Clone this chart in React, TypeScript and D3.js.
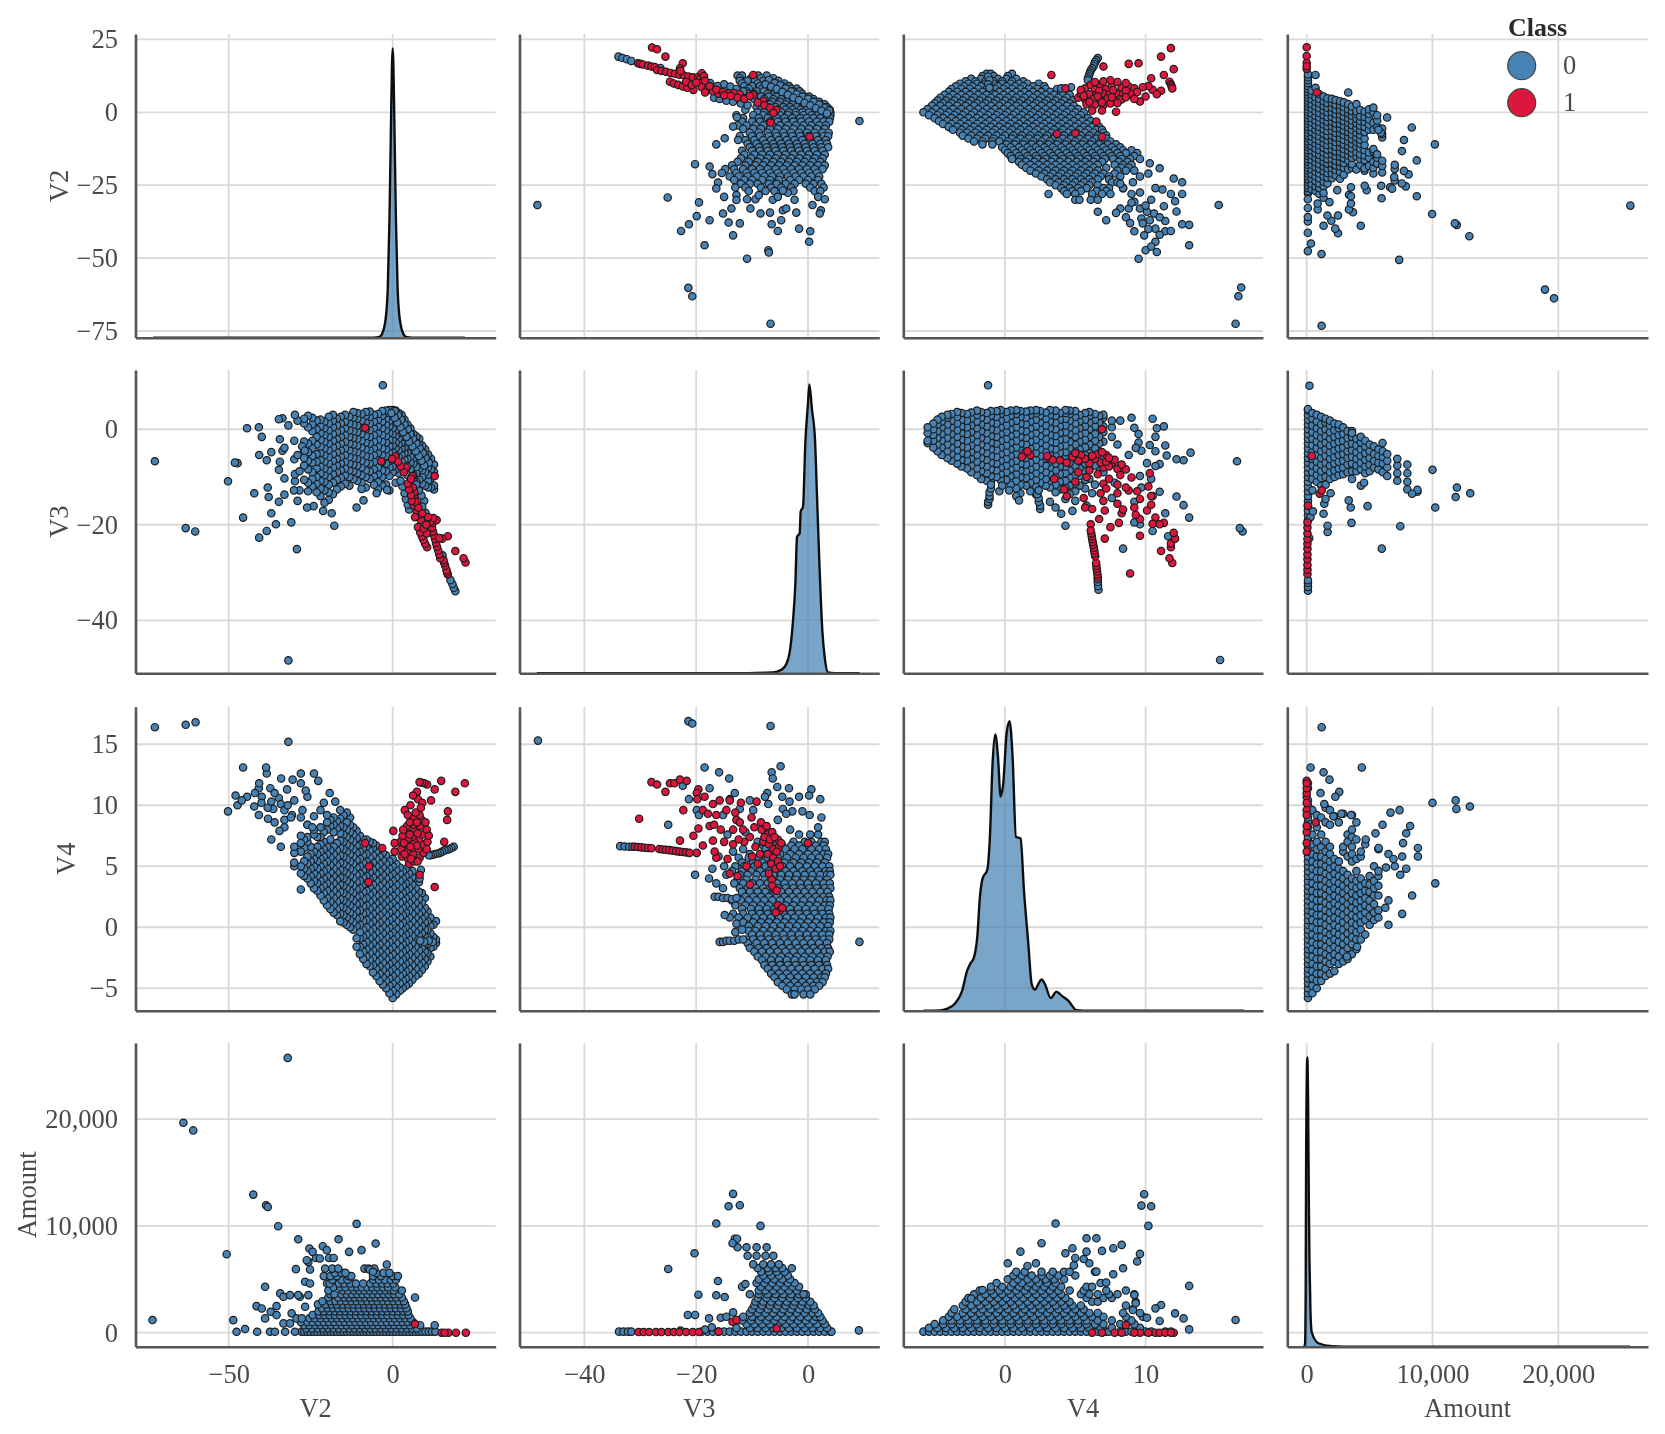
import React, { useEffect, useRef } from 'react';
import * as d3 from 'd3';

type Row = [number, number[]];
type Pair = [number, number];

const variables = ['V2', 'V3', 'V4', 'Amount'];
const classLabels = ['0', '1'];
const tickValues: Record<string, number[]> = {
  V2y: [25, 0, -25, -50, -75],
  V3y: [0, -20, -40],
  V4y: [15, 10, 5, 0, -5],
  Amounty: [20000, 10000, 0],
  V2x: [-50, 0],
  V3x: [-40, -20, 0],
  V4x: [0, 10],
  Amountx: [0, 10000, 20000],
};

// axis limits
const xDomains: Record<string, number[]> = {
  V2: [-78.4, 31.4],
  V3: [-51.6, 12.75],
  V4: [-7.23, 18.35],
  Amount: [-1542, 27130],
};
const yDomains: Record<string, number[]> = {
  V2: [-77.3, 26.85],
  V3: [-51.1, 12.4],
  V4: [-6.84, 18.08],
  Amount: [-1311, 27125],
};

// densities on the diagonal, peak = 1
const kdeV2: Pair[] = [[-73, 0], [-20, 0], [-6, 0], [-4, 0.003], [-3, 0.02], [-2, 0.08], [-1.5, 0.17], [-1, 0.4], [-0.5, 0.75], [-0.2, 0.95], [0, 1], [0.2, 0.95], [0.5, 0.75], [1, 0.4], [1.5, 0.17], [2, 0.08], [3, 0.02], [4, 0.003], [6, 0], [22, 0]];
const kdeV3: Pair[] = [[-48.5, 0], [-15, 0], [-6.25, 0.003], [-4.76, 0.012], [-3.87, 0.032], [-3.15, 0.09], [-2.68, 0.183], [-2.26, 0.31], [-1.96, 0.473], [-1.49, 0.484], [-1.31, 0.56], [-0.89, 0.577], [-0.48, 0.797], [0, 0.936], [0.24, 1], [0.71, 0.913], [1.25, 0.809], [1.61, 0.612], [2.08, 0.357], [2.56, 0.148], [2.98, 0.056], [3.57, 0.003], [4.76, 0], [9.2, 0]];
const kdeV4: Pair[] = [[-5.8, 0], [-4.62, 0.001], [-4.15, 0.006], [-3.55, 0.025], [-3.08, 0.064], [-2.68, 0.139], [-2.49, 0.16], [-2.2, 0.185], [-1.97, 0.254], [-1.78, 0.393], [-1.59, 0.457], [-1.26, 0.486], [-1.07, 0.601], [-0.88, 0.855], [-0.69, 0.954], [-0.5, 0.879], [-0.31, 0.74], [-0.12, 0.786], [0.12, 0.96], [0.33, 1], [0.54, 0.879], [0.78, 0.601], [1.11, 0.595], [1.35, 0.416], [1.66, 0.231], [1.9, 0.092], [2.13, 0.073], [2.37, 0.092], [2.6, 0.108], [2.84, 0.092], [3.25, 0.044], [3.67, 0.066], [4.03, 0.052], [4.5, 0.035], [5.09, 0.002], [6.04, 0], [17, 0]];
const kdeAmount: Pair[] = [[-200, 0], [-130, 0.01], [-80, 0.2], [-40, 0.7], [50, 1], [120, 0.8], [170, 0.5], [220, 0.3], [300, 0.12], [400, 0.05], [930, 0.012], [2000, 0.002], [4000, 0], [25700, 0]];

// V3 (x) against V2 (y): rows are [V2, V3 values]
const v3V2Rows: Row[] = [
  [12.6, [-12.6, -11.8, -9.7, -8.9, -7.4]],
  [11.7, [-12.2, -10.2, -8.4, -6.2]],
  [10.8, [-12.2, -10.8, -9.5, -8, -6.8, -5.3]],
  [9.9, [-11.8, -9, -7.5, -5.6, -4.2]],
  [9, [-11.4, -10, -8.6, -7.2, -6, -4.6, -3.4]],
  [8.1, [-10.6, -8.2, -6.8, -5.4, -3, -2]],
  [7.2, [-11, -9.2, -7.9, -6.5, -5.2, -3.9, -2.6, -1.5]],
  [6.3, [-10.8, -9.6, -7.2, -6, -4.4, -3.4, -2.2, -1]],
  [5.4, [-10.2, -8.4, -7, -5.7, -4.4, -3.2, -2, -0.8, 0.2]],
  [4.5, [-9.6, -7.8, -6.2, -4.8, -3.6, -2.4, -1.2, 0, 1]],
  [3.6, [-8, -6.4, -5, -3.8, -2.6, -1.4, -0.2, 1, 2]],
  [2.7, [-8.6, -6.8, -5.4, -4, -2.8, -1.6, -0.4, 0.8, 2.2, 3]],
  [1.8, [-9.2, -7.4, -5.8, -4.4, -3.2, -2, -0.8, 0.4, 1.6, 2.6, 3.4]],
  [0.9, [-11.2, -8.4, -7, -5.4, -4, -2.8, -1.4, -0.2, 1, 2.2, 3.2, 3.9]],
  [0, [-9, -7.8, -6.2, -4.8, -3.4, -2.2, -1, 0.2, 1.4, 2.6, 3.6, 4]],
  [-1, [-12.8, -9.8, -8, -6.6, -5, -3.6, -2.2, -0.8, 0.6, 1.8, 3, 4]],
  [-2, [-11.6, -8.8, -7.2, -5.6, -4.2, -2.8, -1.4, -0.2, 1, 2.2, 3.4, 3.9]],
  [-3.2, [-11.8, -10, -8.6, -6.8, -5.4, -4, -2.6, -1.2, 0.2, 1.6, 2.8, 3.8]],
  [-4.5, [-12.6, -11, -9.4, -8, -6.4, -5, -3.6, -2.2, -0.8, 0.6, 2, 3.2]],
  [-5.7, [-11.6, -9.8, -8.4, -6.8, -5.4, -4, -2.6, -1.2, 0.2, 1.6, 3]],
  [-7, [-10.4, -8.8, -7.2, -5.8, -4.4, -3, -1.6, -0.2, 1.2, 2.6, 3.7]],
  [-8.2, [-12.2, -10, -8.6, -7, -5.6, -4.2, -2.8, -1.4, 0, 1.4, 2.8, 3.6]],
  [-9.5, [-11.2, -9.6, -8, -6.6, -5.2, -3.8, -2.4, -1, 0.4, 1.8, 3.2]],
  [-10.8, [-10.8, -9.2, -7.6, -6.2, -4.8, -3.4, -2, -0.6, 0.8, 2.2, 3.4]],
  [-12, [-10.4, -8.8, -7.4, -6, -4.6, -3.2, -1.8, -0.4, 1, 2.4, 3.6]],
  [-13.2, [-11.8, -10, -8.6, -7.2, -5.8, -4.4, -3, -1.6, -0.2, 1.2, 2.6]],
  [-14.5, [-11.4, -9.6, -8.2, -6.8, -5.4, -4, -2.6, -1.2, 0.2, 1.6, 3]],
  [-15.8, [-12, -10.2, -8.6, -7.2, -5.8, -4.4, -3, -1.6, -0.2, 1.2, 2.6]],
  [-17, [-12.6, -10.6, -9, -7.6, -6.2, -4.8, -3.4, -2, -0.6, 0.8, 2.2]],
  [-18.2, [-13.6, -11.2, -9.4, -8, -6.6, -5.2, -3.8, -2.4, -1, 0.4, 1.8, 3]],
  [-19.5, [-14.8, -13.2, -11.6, -10, -8.6, -7.2, -5.8, -4.4, -3, -1.6, -0.2, 1.2, 2.6]],
  [-20.8, [-15.4, -12.8, -11, -9.6, -8.2, -6.8, -5.4, -4, -2.6, -1.2, 0.2, 1.6]],
  [-22, [-14, -12.4, -10.8, -9.2, -7.8, -6.4, -5, -3.6, -2.2, -0.8, 0.6, 2]],
  [-23.2, [-13.2, -11.4, -10, -8.2, -6.8, -5.2, -3.2, -1.6, 0, 1.8]],
  [-24.5, [-12, -10.4, -9, -7, -5.6, -4, -2.4, -0.4, 1, 2.4]],
  [-25.8, [-13, -11.2, -8.4, -6.6, -4.8, -3, 0.4, 2.8]],
  [-27, [-10.6, -7.6, -6, -4.4, -2.6, 1.2, 2.2]],
];
const v3V2Blue: Pair[] = [[-48.4, -31.8], [9.2, -3], [-6.7, -72.5], [-21.4, -60.2], [-20.7, -63.1], [-7.1, -47.3], [-7, -48.1], [-10.9, -50.2], [-18.5, -45.6], [0.2, -44.4], [0.4, -40.8], [-1.6, -39.9], [-13.4, -42.2], [-22.7, -40.7], [-21.3, -38.4], [-19.9, -35.6], [-17.6, -37], [-14.2, -37.8], [-12.2, -38.1], [-15.2, -34.7], [-13.7, -33], [-19.5, -30.9], [-25.1, -29.2], [-20.2, -17.8], [-17.6, -18.6], [-17.1, -21.2], [-16.4, -11], [-14.9, -8.9], [-12.5, -9.5], [-13.4, -4.9], [-12.7, -1.7], [-16.1, -24.1], [-16.4, -26.1], [-15, -29], [-12.8, -28.4], [-12.8, -30.1], [-10.9, -29.8], [-9.4, -29.8], [-8.8, -28.4], [-10.3, -33], [-8.5, -34.7], [-6.8, -34.4], [-6.3, -30], [-5.4, -29], [-4.5, -33.6], [-3.9, -33], [-4.8, -37], [-6.5, -38.4], [-5.4, -40.7], [-2.1, -34.4], [-2.4, -30], [0.8, -31.8], [2.3, -33.6], [2.1, -34.7], [1.8, -29], [3, -29.8], [-3.6, -27.6], [-4.5, -26.8], [-33.9, 19.1], [-33.2, 18.6], [-32.4, 18.2], [-31.6, 17.6], [-26.4, 15.2], [-16.8, 5], [-15.8, 4.6], [-14.6, 4], [-13.4, 3.6], [-12, 3], [-10.8, 2.4], [-15, 9.6], [-13.9, 8.8], [-12.8, 8], [-11.6, 7.2], [-19, 10.6], [-17.5, 10], [-16.2, 9], [-7, 11], [-6, 10], [-5, 9.2], [-4, 8.2], [-3, 7.2], [-2, 6.2], [-1, 5.4], [0, 4.6], [1, 3.6], [2, 2.6], [3, 1.6], [3.8, 0.6], [-7.6, 9.6], [-6.6, 8.8], [-5.6, 8], [-4.6, 7], [-3.6, 6], [-2.6, 5], [-1.6, 4.2], [-0.6, 3.2], [0.4, 2.4], [1.4, 1.4], [2.4, 0.6], [3.4, -0.4]];
const v3V2Red: Pair[] = [[-27.9, 22.2], [-27, 21.6], [-25.5, 19.1], [-22.4, 16.8], [-22.9, 15.1], [-30.4, 16.8], [-30, 16.6], [-29.5, 16.4], [-28.6, 16], [-28, 15.7], [-27.4, 15.5], [-27, 14.5], [-26.2, 14.2], [-25.4, 13.9], [-24.6, 13.5], [-23.8, 13.2], [-23, 12.9], [-22.2, 12.6], [-21.4, 12.3], [-20.6, 12], [-19.6, 12.2], [-19.3, 11.7], [-24.7, 10.5], [-24, 9.9], [-23.2, 9.4], [-22.4, 8.9], [-21.6, 8.4], [-20.5, 7.7], [-19.4, 10], [-19, 8.6], [-18, 7.8], [-17, 7.2], [-16, 6.4], [-14.3, 6.6], [-13.2, 6.6], [-12.2, 6.2], [-9.8, 6], [-9.8, 12.8], [-5.7, 0.8], [-6.7, -3.5], [0.3, -8.4], [-8, 4], [-19, 13.4], [-18.6, 12.4], [-18.4, 10.8], [-17.6, 9], [-16.4, 7.8], [-15.2, 7], [-15, 5.8], [-13.8, 5.6], [-12.6, 5], [-11.4, 4.6], [-10.4, 5.6], [-9, 3.4], [-7.8, 2.4], [-6.8, 1.6], [-6.2, -0.2], [-22.8, 14.2], [-21.8, 10.4], [-20.8, 9.4], [-20, 10.2], [-18.4, 6.8]];

// V4 (x) against V2 (y)
const v4V2Rows: Row[] = [
  [13.2, [-1.3, -1, 0.5]],
  [12.4, [-1.6, -0.8, 0.2]],
  [11.5, [-2.4, -1.7, -1.1, -0.5, 0.1, 0.8]],
  [10.6, [-2.8, -2.1, -1.4, -0.8, -0.2, 0.5, 1.3]],
  [9.8, [-3.2, -2.6, -2, -1.4, -0.8, -0.2, 0.4, 1, 1.6, 2.4]],
  [8.9, [-3.5, -2.9, -2.3, -1.7, -1.1, -0.5, 0.1, 0.7, 1.3, 2, 2.8]],
  [8, [-3.8, -3.1, -2.5, -1.9, -1.3, -0.7, -0.1, 0.5, 1.1, 1.7, 2.3, 2.9, 3.7]],
  [7, [-4, -3.4, -2.8, -2.2, -1.6, -1, -0.4, 0.2, 0.8, 1.4, 2, 2.6, 3.2, 4]],
  [6, [-4.3, -3.7, -3.1, -2.5, -1.9, -1.3, -0.7, -0.1, 0.5, 1.1, 1.7, 2.3, 2.9, 3.5, 4.1, 4.6]],
  [5, [-4.6, -4, -3.4, -2.8, -2.2, -1.6, -1, -0.4, 0.2, 0.8, 1.4, 2, 2.6, 3.2, 3.8, 4.4]],
  [4, [-4.8, -4.2, -3.6, -3, -2.4, -1.8, -1.2, -0.6, 0, 0.6, 1.2, 1.8, 2.4, 3, 3.6, 4.2, 4.8]],
  [3.1, [-5, -4.4, -3.8, -3.2, -2.6, -2, -1.4, -0.8, -0.2, 0.4, 1, 1.6, 2.2, 2.8, 3.4, 4, 4.6]],
  [2.2, [-5.2, -4.6, -4, -3.4, -2.8, -2.2, -1.6, -1, -0.4, 0.2, 0.8, 1.4, 2, 2.6, 3.2, 3.8, 4.4, 4.9]],
  [1.1, [-5.5, -4.9, -4.3, -3.7, -3.1, -2.5, -1.9, -1.3, -0.7, -0.1, 0.5, 1.1, 1.7, 2.3, 2.9, 3.5, 4.1, 4.7, 5.2]],
  [0, [-5.8, -5.2, -4.6, -4, -3.4, -2.8, -2.2, -1.6, -1, -0.4, 0.2, 0.8, 1.4, 2, 2.6, 3.2, 3.8, 4.4, 5, 5.6]],
  [-1, [-5.4, -4.8, -4.2, -3.6, -3, -2.4, -1.8, -1.2, -0.6, 0, 0.6, 1.2, 1.8, 2.4, 3, 3.6, 4.2, 4.8, 5.4]],
  [-2, [-5, -4.4, -3.8, -3.2, -2.6, -2, -1.4, -0.8, -0.2, 0.4, 1, 1.6, 2.2, 2.8, 3.4, 4, 4.6, 5.2, 5.9]],
  [-3, [-4.7, -4.1, -3.5, -2.9, -2.3, -1.7, -1.1, -0.5, 0.1, 0.7, 1.3, 1.9, 2.5, 3.1, 3.7, 4.3, 4.9, 5.5, 6.1]],
  [-4, [-4.4, -3.8, -3.2, -2.6, -2, -1.4, -0.8, -0.2, 0.4, 1, 1.6, 2.2, 2.8, 3.4, 4, 4.6, 5.2, 5.8, 6.4]],
  [-5, [-4, -3.4, -2.8, -2.2, -1.6, -1, -0.4, 0.2, 0.8, 1.4, 2, 2.6, 3.2, 3.8, 4.4, 5, 5.6, 6.2, 6.7]],
  [-6, [-3.7, -3.1, -2.5, -1.9, -1.3, -0.7, -0.1, 0.5, 1.1, 1.7, 2.3, 2.9, 3.5, 4.1, 4.7, 5.3, 5.9, 6.5, 6.9]],
  [-7, [-3.2, -2.7, -2.1, -1.5, -0.9, -0.3, 0.3, 0.9, 1.5, 2.1, 2.7, 3.3, 3.9, 4.5, 5.1, 5.7, 6.3, 7]],
  [-8, [-3, -2.4, -1.8, -1.2, -0.6, 0, 0.6, 1.2, 1.8, 2.4, 3, 3.6, 4.2, 4.8, 5.4, 6, 6.6, 7.2]],
  [-9, [-2.6, -2, -1.4, -0.8, -0.2, 0.5, 1.1, 1.7, 2.3, 2.9, 3.5, 4.1, 4.7, 5.3, 5.9, 6.5, 7.2]],
  [-10, [-2.2, -1.6, -0.9, -0.4, 0.2, 0.8, 1.4, 2, 2.6, 3.2, 3.8, 4.4, 5, 5.6, 6.2, 6.8, 7.5]],
  [-11, [-1.6, -0.9, 0.1, 0.7, 1.3, 1.9, 2.5, 3.1, 3.7, 4.3, 4.9, 5.5, 6.1, 6.7, 7.3, 7.9]],
  [-12, [-0.2, 0.4, 1, 1.6, 2.2, 2.8, 3.4, 4, 4.6, 5.2, 5.8, 6.4, 7, 7.6, 8.2]],
  [-13, [0, 0.6, 1.2, 1.8, 2.4, 3, 3.6, 4.2, 4.8, 5.4, 6, 6.6, 7.2, 7.8, 8.4, 9]],
  [-14, [0.2, 0.8, 1.4, 2, 2.6, 3.2, 3.8, 4.4, 5, 5.6, 6.2, 6.8, 7.4, 8, 8.6, 9.4]],
  [-15, [0.4, 1, 1.6, 2.2, 2.8, 3.4, 4, 4.6, 5.2, 5.8, 6.4, 7, 7.6, 8.2, 9.2]],
  [-16, [0.5, 1.1, 1.7, 2.3, 2.9, 3.5, 4.1, 4.7, 5.3, 5.9, 6.5, 7.1, 7.7, 8.3, 8.9, 9.6]],
  [-17, [1, 1.5, 2.1, 2.7, 3.3, 3.9, 4.5, 5.1, 5.7, 6.3, 6.9, 8.1, 8.7]],
  [-18, [1.2, 1.8, 2.4, 3, 3.6, 4.2, 4.8, 5.4, 6, 6.6, 7.8, 8.4, 9]],
  [-19, [1.5, 2.1, 2.7, 3.3, 3.9, 4.5, 5.1, 5.7, 6.3, 7.2, 8.3, 8.8]],
  [-20, [1.8, 2.4, 3, 3.6, 4.2, 4.8, 5.4, 6, 6.6, 8, 8.6, 9.2]],
  [-21, [2.2, 2.8, 3.4, 4, 4.6, 5.2, 5.8, 6.4, 7, 7.8]],
  [-22, [2.6, 3.2, 3.8, 4.4, 5, 5.6, 6.2, 6.8, 7.4, 8.2]],
  [-23, [3, 3.6, 4.2, 4.8, 5.4, 6, 6.6, 7.4]],
  [-24, [3.2, 3.8, 4.4, 5, 5.6, 6.2, 7.6, 8]],
  [-25, [3.6, 4.2, 4.8, 5.4, 6, 6.6]],
  [-26, [4, 4.6, 5.2, 5.8, 7, 7.4, 8.4]],
  [-27, [4.2, 4.8, 5.4, 6.5, 7.2]],
  [-28, [4.4, 5, 6.2, 6.9, 7.5]],
  [-30, [5, 5.3, 6.1, 6.6]],
];
const v4V2Blue: Pair[] = [[3.1, -28], [10.3, -17.5], [11, -19.2], [12, -22.7], [12.6, -24], [10.7, -26], [11.2, -26.5], [12.1, -30.5], [11.3, -32.2], [15.2, -31.8], [11.4, -37.3], [12.6, -38.4], [13.1, -38.6], [11.4, -40.8], [11.8, -40.7], [13.1, -45.6], [10.7, -44.4], [10.8, -47.9], [10, -47.3], [9.5, -50.2], [9.2, -40.8], [9.9, -42.2], [10.7, -39.9], [10.6, -34.7], [10.1, -34.1], [9.6, -33], [9.2, -30.7], [8.8, -33], [8.2, -33], [7.9, -34.5], [7.2, -37], [6.6, -34.1], [9.7, -36.4], [9.8, -38.1], [16.8, -60.1], [16.6, -63.1], [16.4, -72.5], [6.6, 18.6], [6.5, 17.9], [6.4, 17.2], [6.35, 16.5], [6.3, 15.8], [6.2, 15.1], [6.1, 14.4], [6.05, 13.7], [6, 13], [5.95, 12.3], [5.9, 11.6], [5.9, 11], [4.7, 8.6], [4, 8.2], [-1.2, 12.2], [-1.1, 11], [-1.2, 9.6], [-1.1, 8.4], [8.4, -26], [9, -28], [9.6, -27.5], [10.4, -30], [10, -32], [9, -31], [8.6, -36], [8.9, -38], [10.3, -37], [11, -36], [10.2, -40], [11, -42], [10.4, -46], [12.2, -34], [12.6, -28], [9.6, -22], [10.2, -21], [8.2, -24.5], [11.8, -28], [9.1, -24]];
const v4V2Red: Pair[] = [[3.3, 12.8], [4.3, 8.2], [7, 15.7], [8.8, 16.6], [9.5, 16.8], [11.1, 19.1], [11.8, 22], [12, 14.8], [11.3, 12.8], [10.4, 11.7], [11.7, 10.5], [11.8, 9.6], [11.85, 8.9], [11.9, 8.2], [11.1, 7.4], [10.5, 7.7], [10.2, 9], [10, 5.4], [9.6, 3.7], [7.9, 0.2], [6.5, -3.2], [3.7, -7.4], [5, -7.2], [6.9, -8.4], [5.7, 8.2], [6.1, 9.4], [6.4, 7.8], [6.8, 9], [7.2, 8], [7.6, 9.2], [8, 10.4], [8.3, 8.4], [8.8, 8.8], [9.2, 8.2], [6, 6.2], [6.5, 6], [7, 6.5], [7.4, 6], [7.9, 6.6], [8.4, 6.2], [8.9, 6.4], [5.2, 5], [5.7, 4.4], [6.3, 4.6], [6.8, 4.2], [7.3, 4.8], [7.8, 4.2], [8.3, 4.4], [5.8, 2.8], [6.4, 2.6], [7, 2.4], [7.5, 3], [5.4, 6.4], [6.2, 0.6], [6.9, 0.6], [5.4, 7.6], [6.7, 7.4], [7.7, 7.6], [8.6, 7.4], [9.4, 7], [5.6, 5.6], [6.6, 5.4], [7.6, 5.2], [8.6, 5.2], [9.2, 4.6], [6, 3.6], [6.9, 3.4], [8, 3.2], [10.8, 6.2], [9.8, 8.6], [7, 10.6], [6.4, 10.4], [7.5, 11], [8.6, 10]];

// V2 (x) against Amount (y): rows are [Amount, V2 values]
const v2AmountRows: Row[] = [
  [100, [-27.8, -27, -26, -25, -24, -23, -22, -21, -20, -19, -18, -17, -16, -15, -14, -13, -12, -11, -10, -9, -8, -7, -6, -5, -4, -3, -2, -1, 0, 1, 2, 3, 4, 5, 6, 7, 8, 9, 10, 11, 12, 13]],
  [400, [-26.4, -24.6, -22.8, -21.2, -19.6, -18, -16.4, -14.8, -13.2, -11.6, -10, -8.4, -6.8, -5.2, -3.6, -2, -0.4, 1.2, 2.8, 4.4, 6, 7.4]],
  [700, [-27, -25.4, -23.6, -22, -20.4, -18.8, -17.2, -15.6, -14, -12.4, -10.8, -9.2, -7.6, -6, -4.4, -2.8, -1.2, 0.4, 2, 3.6, 5.2, 8.4, 12.8]],
  [1000, [-28, -26, -24.4, -22.6, -21, -19.4, -17.8, -16.2, -14.6, -13, -11.4, -9.8, -8.2, -6.6, -5, -3.4, -1.8, -0.2, 1.4, 3, 4.6, 6.2]],
  [1350, [-25.4, -23.8, -22, -20.2, -18.6, -17, -15.4, -13.8, -12.2, -10.6, -9, -7.4, -5.8, -4.2, -2.6, -1, 0.6, 2.2, 3.8, 5.4]],
  [1650, [-24.4, -22.4, -20.8, -19.2, -17.6, -16, -14.4, -12.8, -11.2, -9.6, -8, -6.4, -4.8, -3.2, -1.6, 0, 1.6, 3.2, 4.8]],
  [2000, [-22.6, -21, -19.2, -17.6, -16, -14.4, -12.8, -11.2, -9.6, -8, -6.4, -4.8, -3.2, -1.6, 0, 1.6, 3.2, 4.6]],
  [2300, [-21.6, -19.8, -18.2, -16.6, -15, -13.4, -11.8, -10.2, -8.6, -7, -5.4, -3.8, -2.2, -0.6, 1, 2.6, 4.2]],
  [2650, [-22.8, -20.4, -18.6, -17, -15.2, -13.6, -12, -10.4, -8.8, -7.2, -5.6, -4, -2.4, -0.8, 0.8, 2.4, 3.8]],
  [2950, [-21.4, -19, -17.4, -15.8, -14.2, -12.6, -11, -9.4, -7.8, -6.2, -4.6, -3, -1.4, 0.2, 1.8, 3.4]],
  [3300, [-19.6, -16.6, -14.8, -13.2, -11.6, -10, -8.4, -6.8, -5.2, -3.6, -2, -0.4, 1, 2.8, 6.8]],
  [3600, [-19, -17.8, -15.6, -14, -12.4, -10.8, -9.2, -7.6, -6, -4.4, -2.8, -1.2, 0.4, 2]],
  [3950, [-19.6, -15.2, -13.6, -11.8, -10.2, -8.6, -7, -5.4, -3.8, -2.2, -0.6, 0.4, 2.8]],
  [4250, [-18, -16, -14.4, -12.4, -10.8, -9.4, -7.8, -6.2, -4.6, -3, -1.4, 0.8]],
  [4600, [-20, -19.2, -16.4, -14.8, -13, -11.2, -9, -6.8, -5, -3.2, -1.6, 0.2]],
  [4950, [-18.4, -15.6, -13.8, -6, -4.2, -2.4, -0.6, 1]],
  [5300, [-21, -19, -17, -13.4, -12.6, -6, -3.6, 0, 1.6]],
  [5600, [-17.6, -15.6, -14.4, -5, -2.8, -1]],
  [6000, [-20.6, -18.4, -16.6, -8.6, -7.4, -5.6]],
  [7000, [-19.4, -18, -23.4]],
];
const v2AmountBlue: Pair[] = [[-73.2, 1184], [-32, 25730], [-63.8, 19660], [-60.8, 18940], [-42.5, 12930], [-38.6, 11930], [-38.1, 11780], [-34.9, 9970], [-50.6, 7350], [-28.8, 8750], [-11, 10190], [-16.5, 8750], [-5.2, 8350], [-9.5, 7730], [-13.3, 7570], [-25.4, 7880], [-24.4, 7570], [-21.3, 8100], [-20.1, 7730], [-22.2, 6950], [-25.7, 6630], [-29.5, 5950], [-25.2, 5920], [-1.8, 6390], [-41.5, 2490], [-39.9, 2270], [-35.4, 2490], [-37.2, 1960], [-38.9, 1340], [-35.4, 1650], [-48.6, 1180], [-34.3, 3680], [-38.9, 4300], [-33.3, 3360], [-31.3, 3520], [-28.3, 3360], [-25.7, 3520], [-28.8, 3520], [-26.7, 2430], [-30.8, 1810], [-29.3, 1340], [-33.3, 870], [-31.3, 870], [-27.7, 1340], [-47.6, 90], [-45, 340], [-41.3, 90], [-37.4, 90], [-35.9, 90], [-32.8, 90], [-29.8, 90], [-26.7, 4770], [-25.2, 4610], [-26.2, 6790], [-7, 5900], [-6, 5700]];
const v2AmountRed: Pair[] = [[6.8, 810], [14.9, 0], [17, 0], [19.3, 0], [22.3, 0], [15.8, 0]];

// V3 (x) against V4 (y): rows are [V4, V3 values]
const v3V4Rows: Row[] = [
  [7.6, [-1.6, 0.4, 1.8]],
  [7, [-9, -5.6, -2.6, -0.6, 0.6, 2.4, 3]],
  [6.7, [-8, -4.6, -3, -1.6, 0, 1.4, 2.8]],
  [6.4, [-7.6, -4, -2.4, -1, 0.6, 2, 3.2]],
  [6, [-10.4, -8.4, -6.8, -5, -3.2, -1.6, 0, 1.4, 2.8, 3.6]],
  [5.7, [-12.4, -10.6, -8.8, -7.2, -5.4, -3.8, -2.2, -0.8, 0.6, 2, 3.4]],
  [5.3, [-11.8, -9.8, -8.2, -6.6, -4.2, -2.6, -1.2, 0.2, 1.6, 3]],
  [5, [-13, -11.4, -9.6, -7.6, -6, -4.6, -3.2, -1.6, -0.2, 1.2, 2.6, 3.8]],
  [4.6, [-13.6, -11.8, -10.2, -8.6, -7, -5.4, -4, -2.6, -1, 0.4, 1.8, 3.2, 3.9]],
  [4.3, [-14.6, -12.2, -10.8, -9.2, -7.8, -6.2, -4.8, -3.4, -2, -0.6, 0.8, 2.2, 3.4, 4]],
  [3.9, [-12.6, -11, -9.4, -7.8, -6.4, -5, -3.6, -2.2, -0.8, 0.6, 2, 3.4]],
  [3.6, [-13.2, -11.6, -10, -8.6, -7.2, -5.6, -4.2, -2.8, -1.4, 0, 1.4, 2.8, 3.9]],
  [3.2, [-15.2, -12.2, -10.8, -9.4, -8, -6.8, -5.4, -4, -2.6, -1.2, 0.2, 1.6, 3, 4]],
  [2.9, [-11.8, -10.4, -9, -7.6, -6.2, -4.8, -3.4, -2, -0.6, 0.8, 2.2, 3.5]],
  [2.5, [-11.2, -9.8, -8.4, -7, -5.6, -4.2, -2.8, -1.4, 0, 1.4, 2.8, 3.8]],
  [2.2, [-13.6, -12, -10.6, -9.2, -7.8, -6.4, -5, -3.6, -2.2, -0.8, 0.6, 2, 3.3, 4]],
  [1.8, [-13, -11.2, -9.8, -8.4, -7, -5.4, -4, -2.6, -1.2, 0.2, 1.6, 3, 3.9]],
  [1.5, [-11.8, -10.2, -8.8, -7.4, -6, -4.6, -3.2, -1.8, -0.4, 1, 2.4, 3.7]],
  [1.1, [-13.4, -11.6, -10, -8.6, -7.2, -5.8, -4.4, -3, -1.6, -0.2, 1.2, 2.6, 3.8]],
  [0.8, [-14, -12.4, -10.8, -9.4, -8, -6.6, -5.2, -3.8, -2.4, -1, 0.4, 1.8, 3.2, 4]],
  [0.4, [-11.6, -9.8, -8.4, -7, -5.6, -4.2, -2.8, -1.4, 0, 1.4, 2.8, 3.9]],
  [0.1, [-10.6, -9, -7.6, -6.2, -4.8, -3.4, -2, -0.6, 0.8, 2.2, 3.6]],
  [-0.3, [-10.6, -9.4, -8, -6.6, -5.2, -3.8, -2.4, -1, 0.4, 1.8, 3.2, 4]],
  [-0.6, [-10, -8.6, -7.2, -5.8, -4.4, -3, -1.6, -0.2, 1.2, 2.6, 3.8]],
  [-1, [-11, -9.8, -8.4, -7, -5.6, -4.2, -2.8, -1.4, 0, 1.4, 2.8, 3.8]],
  [-1.3, [-10.8, -9.2, -7.8, -6.4, -5, -3.6, -2.2, -0.8, 0.6, 2, 3.4]],
  [-1.7, [-10.4, -8.8, -7.4, -6, -4.6, -3.2, -1.8, -0.4, 1, 2.4, 3.6]],
  [-2, [-9.6, -8.2, -6.8, -5.4, -4, -2.6, -1.2, 0.2, 1.6, 3, 3.9]],
  [-2.4, [-9, -7.6, -6.2, -4.8, -3.4, -2, -0.6, 0.8, 2.2, 3.5]],
  [-2.7, [-8.2, -6.6, -5.2, -3.8, -2.4, -1, 0.4, 1.8, 3.2]],
  [-3.1, [-7.8, -6.4, -5, -3.6, -2.2, -0.8, 0.6, 2, 3.4]],
  [-3.4, [-7.2, -5.8, -4.4, -3, -1.6, -0.2, 1.2, 2.6, 3.6]],
  [-3.8, [-6.6, -5.2, -3.8, -2.4, -1, 0.4, 1.8, 3.2]],
  [-4.1, [-6, -4.6, -3.2, -1.8, -0.4, 1, 2.4, 3]],
  [-4.5, [-5.4, -3.8, -2.4, -1, 0.4, 1.6, 2.6]],
  [-4.8, [-4.6, -3.2, -1.8, -0.4, 1, 2]],
  [-5.1, [-3.8, -2.4, -1.2, 0, 1.2]],
  [-5.5, [-2.9, -2.4, -0.8, 0.4]],
];
const v3V4Blue: Pair[] = [[-48.3, 15.3], [-21.4, 16.9], [-20.7, 16.7], [-6.7, 16.5], [-18.5, 13.1], [-15.9, 12.7], [-14.1, 12.2], [-6.5, 12.7], [-4.9, 13.2], [-6.3, 12.2], [-5.5, 11.5], [-3.4, 11.4], [0.6, 11.3], [0.2, 10.8], [2.2, 10.5], [-1.6, 10.7], [-4.6, 10.7], [-3.3, 10.3], [-7.3, 11], [-7.7, 10.7], [-13.1, 11], [-17.6, 11.4], [-21.3, 10.5], [-10.4, 10.4], [-14, 10.5], [-7.1, 10.1], [-4.5, 9.7], [-2.8, 9.5], [-3.9, 9.3], [-1, 9.5], [0.3, 9.2], [2.4, 9], [1.8, 8.2], [-25, 8.4], [-19.9, 9.6], [-19.5, 9.2], [-15.2, 9.2], [-12.2, 9.7], [-9.8, 9.6], [9.2, -1.2], [-20.2, 4.3], [-17.1, 4.8], [-17.7, 4], [-16.4, 3.6], [-12.8, 0.3], [-5.4, 8.8], [-3.2, 8], [-7.8, 8.2], [-11.2, 7.8], [-14.4, 7.6], [-33.6, 6.65], [-32.8, 6.62], [-32, 6.6], [-31.4, 6.6], [-16.7, 2.5], [-16, 2.5], [-15.2, 2.4], [-14.4, 2.4], [-13.6, 2.3], [-12.8, 2.4], [-14.9, 1], [-15.8, -1.2], [-15.2, -1.2], [-14.6, -1.1], [-14, -1.1], [-13.2, -1.1], [-12.4, -1], [-11.6, -1], [-13, -0.4], [-11.8, -0.2], [-15, 5], [-16, 5.8], [-13.4, 6.2], [-11.6, 6.4], [-22.4, 11.6]];
const v3V4Red: Pair[] = [[-28, 11.9], [-27, 11.7], [-24.7, 11.8], [-23.9, 11.8], [-22.9, 12.1], [-21.7, 12], [-25.5, 11.1], [-19.6, 11.3], [-19.9, 11], [-18.5, 10.7], [-19.8, 10.5], [-22.3, 9.6], [-30.2, 8.9], [-17, 10.1], [-15.8, 10.4], [-14, 10.4], [-18.8, 9.6], [-17.9, 9.3], [-16.4, 9.2], [-19.6, 8.1], [-20.5, 7.5], [-17.6, 8.3], [-16.8, 8.4], [-22.9, 7.1], [-18.8, 6.7], [-17, 7.1], [-19.9, 6.1], [-16.4, 5.7], [-14.4, 5.6], [-16.7, 6.2], [-14, 4.4], [-10.4, 3.5], [-10.1, 9], [-12.8, 8.8], [-12.2, 8.6], [-13.4, 8], [-6.5, 3.9], [-6, 3.1], [-5.4, 1.8], [0, 6.9], [-9.2, 10.3], [-31, 6.6], [-30.4, 6.58], [-29.8, 6.55], [-29.2, 6.52], [-28.6, 6.5], [-28, 6.48], [-26.6, 6.42], [-26, 6.38], [-25.4, 6.35], [-24.8, 6.32], [-24.2, 6.28], [-23.6, 6.24], [-23, 6.2], [-22.4, 6.17], [-21.8, 6.14], [-21.2, 6.1], [-8.3, 8], [-7.2, 7.6], [-6.4, 7.8], [-5.4, 7.2], [-8, 7], [-7, 6.8], [-6.2, 6.4], [-5.2, 6.6], [-7.2, 6], [-6.2, 5.7], [-5.4, 5.4], [-10.4, 7.4], [-9.6, 8.2], [-11.4, 7], [-8.4, 8.6], [-7.8, 7.4], [-7.4, 8.3], [-6.8, 7.2], [-6, 7.4], [-5.6, 6.2], [-4.8, 6.9], [-6.6, 5.2], [-5.8, 4.8], [-5, 5], [-7, 4.4], [-6.4, 3.4], [-5.6, 3], [-5, 1.4], [-4.6, 1.6], [-5.8, 1.2], [-10, 5.8], [-9, 5.2], [-11, 5], [-12.6, 4.2], [-9.4, 6.6], [-8.6, 6], [-11.6, 8], [-13, 9.4], [-14.6, 9.6], [-12, 10.2], [-15.6, 8], [-15, 7], [-13.4, 6.8], [-12.4, 7.2]];

// V3 (x) against Amount (y)
const v3AmountRows: Row[] = [
  [100, [-19, -18, -17, -16, -15, -14, -13, -12, -11, -10, -9, -8, -7, -6, -5, -4, -3, -2, -1, 0, 1, 2, 3, 4, 4.2]],
  [450, [-12.8, -10.4, -9, -7.6, -6.2, -4.8, -3.4, -2, -0.6, 0.8, 2.2, 3.4]],
  [800, [-11, -9.6, -8.2, -6.8, -5.4, -4, -2.6, -1.2, 0.2, 1.6, 3]],
  [1150, [-11.8, -10.2, -8.8, -7.4, -6, -4.6, -3.2, -1.8, -0.4, 1, 2.6]],
  [1500, [-11.6, -10, -8.4, -7, -5.6, -4.2, -2.8, -1.4, 0, 1.4, 2.2]],
  [1850, [-10.4, -9, -7.6, -6.2, -4.8, -3.4, -2, -0.6, 0.8, 1.8]],
  [2200, [-10, -8.6, -7.2, -5.8, -4.4, -3, -1.6, -0.2, 1.2]],
  [2550, [-9.6, -8.2, -6.8, -5.4, -4, -2.6, -1.2, 0.2, 1]],
  [2900, [-9.4, -8, -6.6, -5.2, -3.8, -2.4, -1, 0.4]],
  [3250, [-9, -7.4, -6, -4.6, -3.2, -1.8, -0.4]],
  [3600, [-10.4, -8.8, -7.2, -5.8, -4.4, -3, -1.6, -0.4]],
  [3950, [-8.8, -7.6, -6.2, -4.8, -3.4, -2]],
  [4300, [-8.4, -7, -5.6, -4.2, -2.8, -1.6]],
  [4650, [-9.2, -7.8, -6.4, -5, -3.6, -2.4]],
  [5000, [-8.8, -7.4, -6, -4.6, -3.2]],
  [5350, [-8, -6.6, -5.2, -3.6]],
  [5700, [-8.4, -7, -5.6, -4.2]],
  [6050, [-9, -7.2, -5.8, -4.6]],
  [6400, [-9.8, -8, -6.6, -5.2]],
  [7200, [-10.8, -9.2, -7.6, -6.2]],
  [8000, [-12.6, -11, -9.2, -7.4]],
  [8800, [-13.1, -12.7]],
];
const v3AmountBlue: Pair[] = [[9.1, 220], [-13.4, 13000], [-14.2, 11840], [-12.2, 11940], [-16.4, 10220], [-8.5, 10000], [-20.3, 7440], [-25, 5970], [-2.9, 6030], [-16.1, 4840], [-19.6, 3560], [-16.4, 3500], [-14.9, 3340], [-21.5, 1660], [-20.2, 1660], [-17.7, 1340], [-11.8, 4310], [-11.2, 4560], [-13.5, 8380], [-33.8, 100], [-33, 100], [-32.2, 100], [-31.6, 100], [-22.8, 200], [-18.4, 300], [-17.2, 500], [-15.6, 1400], [-14.6, 1500], [-13.4, 1900], [-0.8, 3600]];
const v3AmountRed: Pair[] = [[-30.3, 60], [-29.4, 60], [-28.4, 60], [-27.2, 60], [-26.2, 60], [-25, 60], [-24, 60], [-23, 60], [-21.8, 60], [-20.6, 60], [-19.5, 60], [-13.5, 1030], [-12.8, 1200], [-16, 100], [-5.6, 400]];

// V4 (x) against Amount (y)
const v4AmountRows: Row[] = [
  [100, [-5.8, -5.4, -5, -4.6, -4.2, -3.8, -3.4, -3, -2.6, -2.2, -1.8, -1.4, -1, -0.6, -0.2, 0.2, 0.6, 1, 1.4, 1.8, 2.2, 2.6, 3, 3.4, 3.8, 4.2, 4.6, 5, 5.4, 5.8, 6.2, 6.6, 7.2, 7.4, 8.2, 8.6, 9, 9.4, 10, 10.4, 11.4, 11.8]],
  [450, [-5.4, -4.8, -4.2, -3.6, -3, -2.4, -1.8, -1.2, -0.6, 0, 0.6, 1.2, 1.8, 2.4, 3, 3.6, 4.2, 4.8, 5.4, 6, 6.8, 7.6, 9.6]],
  [800, [-5, -4.4, -3.8, -3.2, -2.6, -2, -1.4, -0.8, -0.2, 0.4, 1, 1.6, 2.2, 2.8, 3.4, 4, 4.6, 5.2, 5.8, 6.4, 7, 8.2, 9.2]],
  [1150, [-4.4, -3.8, -3.2, -2.6, -2, -1.4, -0.8, -0.2, 0.4, 1, 1.6, 2.2, 2.8, 3.4, 4, 4.6, 5.2, 5.8, 6.6, 7.6, 9]],
  [1500, [-4, -3.4, -2.8, -2.2, -1.6, -1, -0.4, 0.2, 0.8, 1.4, 2, 2.6, 3.2, 3.8, 4.4, 5, 5.6, 6.2, 7, 8.6, 9.8]],
  [1850, [-3.8, -3, -2.4, -1.8, -1.2, -0.6, 0, 0.6, 1.2, 1.8, 2.4, 3, 3.6, 4.2, 4.8, 5.4, 6, 6.6, 8.4, 9.6]],
  [2200, [-3.6, -2.8, -2.2, -1.6, -1, -0.4, 0.2, 0.8, 1.4, 2, 2.6, 3.2, 3.8, 4.4, 5, 5.6, 9.1]],
  [2550, [-3, -2.4, -1.8, -1.2, -0.6, 0, 0.6, 1.2, 1.8, 2.4, 3, 3.6, 4.2, 4.8, 5.4, 8.6]],
  [2900, [-2.8, -2, -1.4, -0.8, -0.2, 0.4, 1, 1.6, 2.2, 2.8, 3.4, 4, 4.6, 6.2, 6.6, 9.3]],
  [3250, [-2.6, -1.7, -1.1, -0.5, 0.1, 0.7, 1.3, 1.9, 2.5, 3.1, 3.7, 4.3, 5.8, 7, 7.6]],
  [3600, [-2.2, -1.4, -0.8, -0.2, 0.4, 1, 1.6, 2.2, 2.8, 3.4, 4, 5.4, 6, 6.6, 7.4, 8, 9.2]],
  [3950, [-1.8, -1, -0.4, 0.2, 0.8, 1.4, 2, 2.6, 3.2, 3.8, 4.6, 5.6, 7.2, 8.6]],
  [4300, [-1, -0.2, 0.4, 1, 1.6, 2.2, 2.8, 3.4, 4, 5.8, 6.2]],
  [4650, [-0.6, 0.6, 1.2, 1.8, 2.4, 3, 3.6, 6.8]],
  [5000, [0.2, 0.9, 1.6, 2.2, 2.9, 3.5, 4.2]],
  [5350, [0.6, 1.2, 1.9, 2.6, 3.2, 3.8, 5]],
  [5700, [0.8, 1.4, 2.6, 3.4, 4.2, 4.6, 6.4]],
];
const v4AmountBlue: Pair[] = [[9.9, 12970], [9.7, 11900], [10.4, 11840], [3.6, 10220], [10.2, 10000], [2.6, 8380], [1.1, 7590], [5.8, 8840], [6.5, 8840], [8.3, 8220], [7.7, 7910], [6.9, 7660], [9.4, 6660], [9.6, 7380], [13.1, 4380], [16.4, 1190], [13.1, 310], [12.1, 1810], [12.7, 1340], [11.1, 2590], [10.7, 2280], [9.2, 3530], [9.3, 2750], [9.1, 2120], [8.4, 6030], [7.7, 5470], [7.2, 4690], [6.5, 5720], [6, 6500], [5.8, 7590], [4.8, 7910], [4.3, 7440], [2.2, 6500], [1.6, 6250], [0.2, 6500], [5, 7000], [5.6, 6900], [4.9, 6300], [-1.6, 4000], [-2.4, 3200], [10.1, 1400], [11, 1100]];
const v4AmountRed: Pair[] = [[6.9, 0], [7.8, 0], [9.6, 0], [10.7, 0], [11, 0], [12, 0], [8.6, 720], [8.3, 0], [9.2, 0], [10.2, 0], [11.4, 0], [11.8, 0], [6.2, 0]];

const expandRows = (rows: Row[]): Pair[] => rows.flatMap(([y, xs]) => xs.map((x) => [x, y] as Pair));
const swap = (pts: Pair[]): Pair[] => pts.map(([a, b]) => [b, a] as Pair);

const panelPoints: Record<string, { blue: Pair[]; red: Pair[] }> = {
  'V3|V2': { blue: [...expandRows(v3V2Rows), ...v3V2Blue], red: v3V2Red },
  'V4|V2': { blue: [...expandRows(v4V2Rows), ...v4V2Blue], red: v4V2Red },
  'V2|Amount': { blue: [...expandRows(v2AmountRows), ...v2AmountBlue], red: v2AmountRed },
  'V3|V4': { blue: [...expandRows(v3V4Rows), ...v3V4Blue], red: v3V4Red },
  'V3|Amount': { blue: [...expandRows(v3AmountRows), ...v3AmountBlue], red: v3AmountRed },
  'V4|Amount': { blue: [...expandRows(v4AmountRows), ...v4AmountBlue], red: v4AmountRed },
};
const kdes: Record<string, Pair[]> = { V2: kdeV2, V3: kdeV3, V4: kdeV4, Amount: kdeAmount };

const colLeft = [135.5, 519.5, 903.3, 1287.3];
const colRight = [495.7, 879.3, 1263, 1648];
const rowTop = [34, 370, 706.7, 1043];
const rowBottom = [337.7, 673.3, 1010.7, 1346.7];
const yLabelX = [68, 68, 75, 36];
const FONT = '"Liberation Serif", serif';
const BLUE = '#4682B4';
const RED = '#DC143C';

const App: React.FC = () => {
  const svgRef = useRef<SVGSVGElement>(null);

  useEffect(() => {
    if (!svgRef.current) return;
    const svg = d3.select(svgRef.current);
    svg.selectAll('*').remove();

    svg.append('defs').append('filter').attr('id', 'soft')
      .append('feGaussianBlur').attr('stdDeviation', 0.7);
    const root = svg.append('g').attr('filter', 'url(#soft)').style('font-family', FONT);

    variables.forEach((yVar, r) => {
      variables.forEach((xVar, c) => {
        const x = d3.scaleLinear().domain(xDomains[xVar]).range([colLeft[c], colRight[c]]);
        const y = d3.scaleLinear().domain(yDomains[yVar]).range([rowBottom[r], rowTop[r]]);
        const g = root.append('g');

        // Grid
        g.selectAll('.hg').data(tickValues[yVar + 'y']).enter().append('line')
          .attr('x1', colLeft[c]).attr('x2', colRight[c])
          .attr('y1', (d) => y(d)).attr('y2', (d) => y(d))
          .attr('stroke', '#d9d9d9').attr('stroke-width', 1.8);
        g.selectAll('.vg').data(tickValues[xVar + 'x']).enter().append('line')
          .attr('y1', rowTop[r]).attr('y2', rowBottom[r])
          .attr('x1', (d) => x(d)).attr('x2', (d) => x(d))
          .attr('stroke', '#d9d9d9').attr('stroke-width', 1.8);

        if (r === c) {
          const dens = d3.scaleLinear().domain([0, 1.05]).range([rowBottom[r], rowTop[r]]);
          const pts = kdes[xVar];
          const area = d3.area<Pair>().x((d) => x(d[0])).y0(rowBottom[r]).y1((d) => dens(d[1])).curve(d3.curveMonotoneX);
          const line = d3.line<Pair>().x((d) => x(d[0])).y((d) => dens(d[1])).curve(d3.curveMonotoneX);
          g.append('path').attr('d', area(pts)).attr('fill', BLUE).attr('fill-opacity', 0.72);
          g.append('path').attr('d', line(pts)).attr('fill', 'none').attr('stroke', '#111').attr('stroke-width', 2.4);
        } else {
          const key = `${xVar}|${yVar}`;
          const flipped = !panelPoints[key];
          const source = panelPoints[key] || panelPoints[`${yVar}|${xVar}`];
          const blue = flipped ? swap(source.blue) : source.blue;
          const red = flipped ? swap(source.red) : source.red;
          [{ pts: blue, fill: BLUE }, { pts: red, fill: RED }].forEach(({ pts, fill }) => {
            g.append('g').selectAll('circle').data(pts).enter().append('circle')
              .attr('cx', (d) => x(d[0])).attr('cy', (d) => y(d[1])).attr('r', 3.7)
              .attr('fill', fill).attr('stroke', '#1d1d1d').attr('stroke-width', 1.2);
          });
        }

        // Axes
        const fmt = d3.format(',');
        const yAxis = d3.axisLeft(y).tickValues(c === 0 ? tickValues[yVar + 'y'] : []).tickSize(0).tickPadding(17.5).tickFormat((d) => fmt(d as number));
        const xAxis = d3.axisBottom(x).tickValues(r === 3 ? tickValues[xVar + 'x'] : []).tickSize(0).tickPadding(17.5).tickFormat((d) => fmt(d as number));
        const ya = g.append('g').attr('transform', `translate(${colLeft[c]},0)`).call(yAxis);
        const xa = g.append('g').attr('transform', `translate(0,${rowBottom[r]})`).call(xAxis);
        [ya, xa].forEach((a) => {
          a.select('.domain').attr('stroke', '#555').attr('stroke-width', 2.6);
          a.selectAll('text').style('font-family', FONT).style('font-size', '26.5px').attr('fill', '#4a4a4a');
        });
      });

      // Row and column titles
      root.append('text')
        .attr('transform', `translate(${yLabelX[r]},${(rowTop[r] + rowBottom[r]) / 2}) rotate(-90)`)
        .attr('text-anchor', 'middle').style('font-size', '26.5px').attr('fill', '#4a4a4a').text(yVar);
      root.append('text')
        .attr('x', (colLeft[r] + colRight[r]) / 2).attr('y', 1416.5)
        .attr('text-anchor', 'middle').style('font-size', '26.5px').attr('fill', '#4a4a4a').text(yVar);
    });

    // Legend
    root.append('text').attr('x', 1537.5).attr('y', 36).attr('text-anchor', 'middle')
      .style('font-size', '26px').style('font-weight', 'bold').attr('fill', '#2a2a2a').text('Class');
    classLabels.forEach((label, i) => {
      const cy = 65.7 + i * 37;
      root.append('circle').attr('cx', 1521.7).attr('cy', cy).attr('r', 14)
        .attr('fill', i === 0 ? BLUE : RED).attr('stroke', '#444').attr('stroke-width', 1.2);
      root.append('text').attr('x', 1563).attr('y', cy + 8).style('font-size', '26.5px').attr('fill', '#4a4a4a').text(label);
    });
  }, []);

  return (
    <svg ref={svgRef} width={1665} height={1434} style={{ position: 'absolute', left: 0, top: 0, background: '#fff' }} />
  );
};

export default App;
